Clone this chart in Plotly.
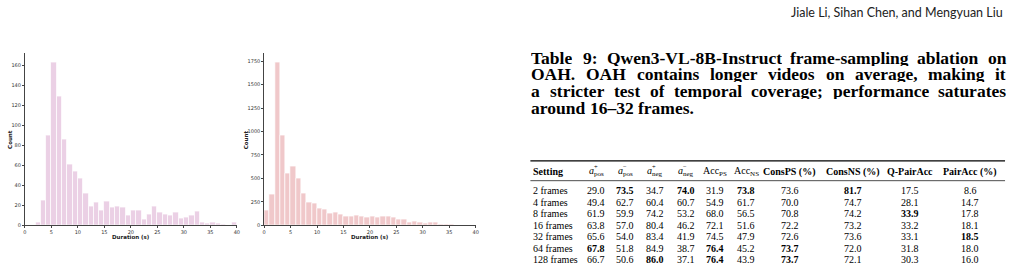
import plotly.graph_objects as go

W, H = 1018, 271

# ---------------- data ----------------
left_bin_left = [2, 3, 4, 5, 6, 7, 8, 9, 10, 11, 12, 13, 14, 15, 16, 17, 18, 19, 20,
                 21, 22, 23, 24, 25, 26, 27, 28, 29, 30, 31, 32, 33, 34, 35, 36, 37, 38, 39]
left_counts = [3, 25, 90, 163, 129, 86, 61, 54, 47, 32, 19, 23, 15, 24, 18, 19, 18, 10, 15,
               15, 6, 11, 19, 13, 11, 10, 13, 7, 8, 10, 14, 3, 2, 3, 2, 1, 0, 3]

right_bin_left = [0, 1, 2, 3, 4, 5, 6, 7, 8, 9, 10, 11, 12, 13, 14, 15, 16, 17, 18,
                  19, 20, 21, 22, 23, 24, 25, 26, 27, 28, 29, 30, 31, 32, 33, 34, 35]
right_counts = [160, 330, 1740, 960, 550, 630, 505, 340, 245, 235, 185, 170, 125, 140, 115,
                95, 95, 110, 100, 85, 100, 90, 95, 100, 90, 70, 65, 35, 45, 30, 25, 35, 35,
                12, 12, 8]

x_ticks = [0, 5, 10, 15, 20, 25, 30, 35, 40]
left_y_ticks = [0, 20, 40, 60, 80, 100, 120, 140, 160]
right_y_ticks = [0, 250, 500, 750, 1000, 1250, 1500, 1750]

header_text = "Jiale Li, Sihan Chen, and Mengyuan Liu"
caption_lines = [
    "Table 9: Qwen3-VL-8B-Instruct frame-sampling ablation on",
    "OAH. OAH contains longer videos on average, making it",
    "a stricter test of temporal coverage; performance saturates",
    "around 16\u201332 frames.",
]

settings = ["2 frames", "4 frames", "8 frames", "16 frames", "32 frames", "64 frames", "128 frames"]
a_pos_plus = [29.0, 49.4, 61.9, 63.8, 65.6, 67.8, 66.7]
a_pos_minus = [73.5, 62.7, 59.9, 57.0, 54.0, 51.8, 50.6]
a_neg_plus = [34.7, 60.4, 74.2, 80.4, 83.4, 84.9, 86.0]
a_neg_minus = [74.0, 60.7, 53.2, 46.2, 41.9, 38.7, 37.1]
acc_ps = [31.9, 54.9, 68.0, 72.1, 74.5, 76.4, 76.4]
acc_ns = [73.8, 61.7, 56.5, 51.6, 47.9, 45.2, 43.9]
cons_ps = [73.6, 70.0, 70.8, 72.2, 72.6, 73.7, 73.7]
cons_ns = [81.7, 74.7, 74.2, 73.2, 73.6, 72.0, 72.1]
q_pair_acc = [17.5, 28.1, 33.9, 33.2, 33.1, 31.8, 30.3]
pair_acc = [8.6, 14.7, 17.8, 18.1, 18.5, 18.0, 16.0]

value_columns = [a_pos_plus, a_pos_minus, a_neg_plus, a_neg_minus, acc_ps, acc_ns,
                 cons_ps, cons_ns, q_pair_acc, pair_acc]
header_labels = ["<i>a</i><sub>pos</sub>", "<i>a</i><sub>pos</sub>",
                 "<i>a</i><sub>neg</sub>", "<i>a</i><sub>neg</sub>",
                 "Acc<sub>PS</sub>", "Acc<sub>NS</sub>",
                 "<b>ConsPS (%)</b>", "<b>ConsNS (%)</b>", "<b>Q-PairAcc</b>", "<b>PairAcc (%)</b>"]
header_sups = ["+", "\u2212", "+", "\u2212", "", "", "", "", "", ""]

# ---------------- layout helpers ----------------
def px(x):
    return x / W

def py(y):
    return 1 - y / H

SERIF = "Liberation Serif, DejaVu Serif, serif"
TICK_FONT = dict(family="DejaVu Sans", size=5, color="#333333")

fig = go.Figure()

fig.add_trace(go.Bar(
    x=[b + 0.5 for b in left_bin_left], y=left_counts, width=1,
    marker=dict(color="#ebd0e5", line=dict(color="white", width=0.7)),
    xaxis="x", yaxis="y", showlegend=False, hoverinfo="skip"))
fig.add_trace(go.Bar(
    x=[b + 0.5 for b in right_bin_left], y=right_counts, width=1,
    marker=dict(color="#f0c8ca", line=dict(color="white", width=0.7)),
    xaxis="x2", yaxis="y2", showlegend=False, hoverinfo="skip"))

axis_common = dict(ticks="outside", ticklen=2, tickwidth=0.6, tickcolor="#444444",
                   showline=True, linecolor="#444444", linewidth=0.8,
                   showgrid=False, zeroline=False, tickfont=TICK_FONT)

ydom = [py(228), py(54)]
fig.update_layout(
    width=W, height=H, margin=dict(l=0, r=0, t=0, b=0),
    paper_bgcolor="white", plot_bgcolor="white", bargap=0,
    xaxis=dict(domain=[px(23), px(236)], range=[0, 40], tickvals=x_ticks,
               anchor="y", **axis_common),
    yaxis=dict(domain=ydom, range=[0, 172], tickvals=left_y_ticks,
               anchor="x", **axis_common),
    xaxis2=dict(domain=[px(263.5), px(476)], range=[0, 40], tickvals=x_ticks,
                anchor="y2", **axis_common),
    yaxis2=dict(domain=ydom, range=[0, 1831], tickvals=right_y_ticks,
                anchor="x2", **axis_common),
)

ann = []

def add_text(x, y, text, size, family=SERIF, xanchor="center", color="black", textangle=0):
    ann.append(dict(x=px(x), y=py(y), xref="paper", yref="paper", text=text,
                    showarrow=False, xanchor=xanchor, yanchor="middle",
                    font=dict(family=family, size=size, color=color),
                    borderpad=0, textangle=textangle))

# axis titles
for cx, yx in [(129.5, 8.5), (370, 246)]:
    add_text(cx, 240, "<b>Duration (s)</b>", 5.5, family="DejaVu Sans", color="#222222")
    add_text(yx, 141, "<b>Count</b>", 5.5, family="DejaVu Sans", color="#222222", textangle=-90)

# running header
ann.append(dict(x=px(1007), y=py(13), xref="paper", yref="paper", text=header_text,
                showarrow=False, xanchor="right", yanchor="middle", borderpad=0,
                font=dict(family="Lato", size=12.5, color="#222222")))

# caption with justified lines (Times-Bold compatible metrics for Liberation Serif Bold)
TB = {' ': 250, 'a': 500, 'b': 556, 'c': 444, 'd': 556, 'e': 444, 'f': 333, 'g': 500,
      'h': 556, 'i': 278, 'j': 333, 'k': 556, 'l': 278, 'm': 833, 'n': 556, 'o': 500,
      'p': 556, 'q': 556, 'r': 444, 's': 389, 't': 333, 'u': 556, 'v': 500, 'w': 722,
      'x': 500, 'y': 500, 'z': 444, 'A': 722, 'B': 667, 'C': 722, 'D': 722, 'E': 667,
      'F': 611, 'G': 778, 'H': 778, 'I': 389, 'J': 500, 'K': 778, 'L': 667, 'M': 944,
      'N': 722, 'O': 778, 'P': 611, 'Q': 778, 'R': 722, 'S': 556, 'T': 667, 'U': 722,
      'V': 722, 'W': 1000, 'X': 722, 'Y': 722, 'Z': 667, ':': 333, ';': 333, '.': 250,
      ',': 250, '-': 333, '\u2013': 500}

def tw(s, size):
    return sum(TB.get(c, 500) for c in s) * size / 1000.0

CAP_SIZE = 17.5
cap_left, cap_right = 531, 1008
cap_y = [58.5, 75.3, 92.1, 108.9]
for i, line in enumerate(caption_lines):
    words = line.split(" ")
    if i < len(caption_lines) - 1:
        total = sum(tw(w, CAP_SIZE) for w in words)
        gap = (cap_right - cap_left - total) / (len(words) - 1)
    else:
        gap = tw(" ", CAP_SIZE)
    x = cap_left
    for w in words:
        ann.append(dict(x=px(x), y=py(cap_y[i]), xref="paper", yref="paper",
                        text="<b>" + w + "</b>", showarrow=False, xanchor="left",
                        yanchor="middle", borderpad=0, height=16,
                        font=dict(family=SERIF, size=CAP_SIZE, color="black")))
        x += tw(w, CAP_SIZE) + gap

# table
TFS = 10
setting_x = 533
col_x = [597, 626.5, 656, 687, 717, 748, 791.5, 855, 912.5, 973]
header_y = 173.5
row_y0, row_dy = 193, 11.6

add_text(setting_x, header_y, "<b>Setting</b>", TFS, xanchor="left")
for cx, lab, sup in zip(col_x, header_labels, header_sups):
    add_text(cx, header_y, lab, TFS)
    if sup:
        add_text(cx - 0.5, header_y - 5, sup, 6.5)

for r, s in enumerate(settings):
    yy = row_y0 + r * row_dy
    add_text(setting_x, yy, s, TFS, xanchor="left")
    for cx, col in zip(col_x, value_columns):
        v = col[r]
        txt = f"{v:.1f}"
        if v == max(col):
            txt = "<b>" + txt + "</b>"
        add_text(cx, yy, txt, TFS)

shapes = [
    dict(type="line", xref="paper", yref="paper", x0=px(531), x1=px(1008),
         y0=py(162.7), y1=py(162.7), line=dict(color="black", width=1.1)),
    dict(type="line", xref="paper", yref="paper", x0=px(531), x1=px(1008),
         y0=py(182.7), y1=py(182.7), line=dict(color="black", width=0.7)),
]

fig.update_layout(annotations=ann, shapes=shapes)
fig.write_html("out.html")
